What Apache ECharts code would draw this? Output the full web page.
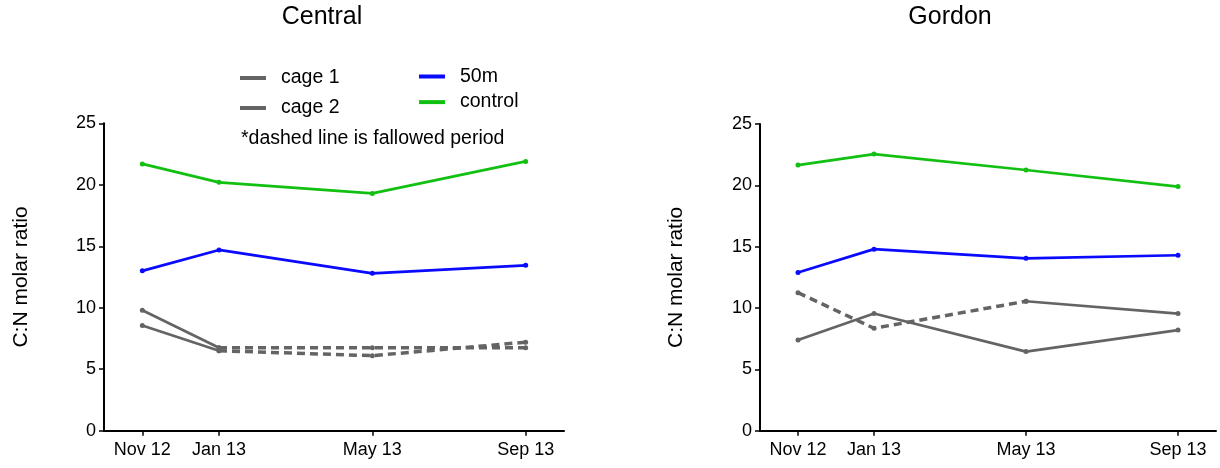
<!DOCTYPE html>
<html>
<head>
<meta charset="utf-8">
<script src="https://cdn.jsdelivr.net/npm/echarts@6/dist/echarts.min.js"></script>
<style>
  html, body { margin: 0; padding: 0; background: #fff; }
  #chart { width: 1220px; height: 468px; }
</style>
</head>
<body>
<div id="chart"></div>
<script>
// Monthly timeline shown on both x axes (Oct 2012 – Oct 2013)
const months = ['Oct 12', 'Nov 12', 'Dec 12', 'Jan 13', 'Feb 13', 'Mar 13', 'Apr 13',
                'May 13', 'Jun 13', 'Jul 13', 'Aug 13', 'Sep 13', 'Oct 13'];
// Sampling dates (the only labelled ticks)
const sampleDates = ['Nov 12', 'Jan 13', 'May 13', 'Sep 13'];

// Central site: C:N molar ratio per sampling date
const centralCage1 = [9.8, 6.75, 6.75, 6.75];
const centralCage2 = [8.55, 6.5, 6.1, 7.2];
const central50m = [13.0, 14.7, 12.8, 13.45];
const centralControl = [21.7, 20.2, 19.3, 21.9];
// Fallowed intervals (between consecutive sampling dates)
const centralCage1Fallow = [false, true, true];
const centralCage2Fallow = [false, true, true];

// Gordon site
const gordonCage1 = [7.4, 9.55, 6.45, 8.2];
const gordonCage2 = [11.25, 8.35, 10.55, 9.55];
const gordon50m = [12.9, 14.8, 14.05, 14.3];
const gordonControl = [21.65, 22.55, 21.25, 19.9];
const gordonCage1Fallow = [false, false, false];
const gordonCage2Fallow = [true, true, false];

const FONT = 'Liberation Sans, Arial, sans-serif';
const GRAY = '#646464';
const BLUE = '#0a0aff';
const GREEN = '#12c012';

// Split a cage series into runs of solid (active) and dashed (fallowed) segments
function cageSeries(name, values, fallow, gridIndex) {
  const out = [];
  let start = 0;
  for (let i = 1; i <= fallow.length; i++) {
    if (i === fallow.length || fallow[i] !== fallow[start]) {
      const data = [];
      for (let j = start; j <= i; j++) data.push([sampleDates[j], values[j]]);
      const dashed = fallow[start];
      out.push({
        name: name,
        type: 'line',
        xAxisIndex: gridIndex,
        yAxisIndex: gridIndex,
        data: data,
        symbol: 'circle',
        symbolSize: 5,
        itemStyle: { color: GRAY },
        lineStyle: dashed
          ? { color: GRAY, width: 3.5, type: [8, 5] }
          : { color: GRAY, width: 2.7 },
        animation: false
      });
      start = i;
    }
  }
  return out;
}

function plainSeries(name, values, color, gridIndex) {
  return {
    name: name,
    type: 'line',
    xAxisIndex: gridIndex,
    yAxisIndex: gridIndex,
    data: values.map((v, i) => [sampleDates[i], v]),
    symbol: 'circle',
    symbolSize: 5,
    itemStyle: { color: color },
    lineStyle: { color: color, width: 2.7 },
    animation: false
  };
}

const showDate = (idx, value) => sampleDates.indexOf(value) >= 0;

function xAxis(gridIndex) {
  return {
    type: 'category',
    gridIndex: gridIndex,
    data: months,
    boundaryGap: false,
    axisLine: { lineStyle: { color: '#000', width: 2 } },
    axisTick: { interval: showDate, length: 5, lineStyle: { color: '#000', width: 1.5 } },
    axisLabel: { interval: showDate, color: '#000', fontFamily: FONT, fontSize: 18, margin: 10 },
    splitLine: { show: false }
  };
}

function yAxis(gridIndex, nameGap) {
  return {
    type: 'value',
    gridIndex: gridIndex,
    min: 0, max: 25, interval: 5,
    name: 'C:N molar ratio',
    nameLocation: 'middle',
    nameRotate: 90,
    nameGap: nameGap,
    nameTextStyle: { color: '#000', fontFamily: FONT, fontSize: 21 },
    axisLine: { show: true, lineStyle: { color: '#000', width: 2 } },
    axisTick: { show: true, length: 5, lineStyle: { color: '#000', width: 1.5 } },
    axisLabel: { color: '#000', fontFamily: FONT, fontSize: 18, margin: 8 },
    splitLine: { show: false }
  };
}

const legendCommon = {
  orient: 'vertical',
  icon: 'rect',
  itemWidth: 26,
  itemHeight: 4,
  selectedMode: false,
  padding: 0,
  textStyle: { color: '#000', fontFamily: FONT, fontSize: 19.5, lineHeight: 20, padding: [0, 0, 0, 10] }
};

const option = {
  animation: false,
  title: [
    { text: 'Central', left: 322, top: 17.5, textAlign: 'center', textVerticalAlign: 'middle', padding: 0,
      textStyle: { fontFamily: FONT, fontSize: 25, fontWeight: 'normal', color: '#000' } },
    { text: 'Gordon', left: 950, top: 17.5, textAlign: 'center', textVerticalAlign: 'middle', padding: 0,
      textStyle: { fontFamily: FONT, fontSize: 25, fontWeight: 'normal', color: '#000' } }
  ],
  legend: [
    Object.assign({}, legendCommon, { data: ['cage 1', 'cage 2'], left: 240, top: 68, itemGap: 10 }),
    Object.assign({}, legendCommon, { data: ['50m', 'control'], left: 419, top: 66.5, itemGap: 5.6 })
  ],
  graphic: [
    { type: 'text', left: 241, top: 129,
      style: { text: '*dashed line is fallowed period', font: '19.5px ' + FONT, fill: '#000' } }
  ],
  grid: [
    { left: 104, right: 656, top: 123.3, bottom: 37.3 },
    { left: 760, right: 4, top: 124, bottom: 37.3 }
  ],
  xAxis: [xAxis(0), xAxis(1)],
  yAxis: [yAxis(0, 72), yAxis(1, 73)],
  series: [].concat(
    cageSeries('cage 1', centralCage1, centralCage1Fallow, 0),
    cageSeries('cage 2', centralCage2, centralCage2Fallow, 0),
    plainSeries('50m', central50m, BLUE, 0),
    plainSeries('control', centralControl, GREEN, 0),
    cageSeries('cage 1', gordonCage1, gordonCage1Fallow, 1),
    cageSeries('cage 2', gordonCage2, gordonCage2Fallow, 1),
    plainSeries('50m', gordon50m, BLUE, 1),
    plainSeries('control', gordonControl, GREEN, 1)
  )
};

const chart = echarts.init(document.getElementById('chart'), null, { renderer: 'canvas' });
chart.setOption(option);
</script>
</body>
</html>
